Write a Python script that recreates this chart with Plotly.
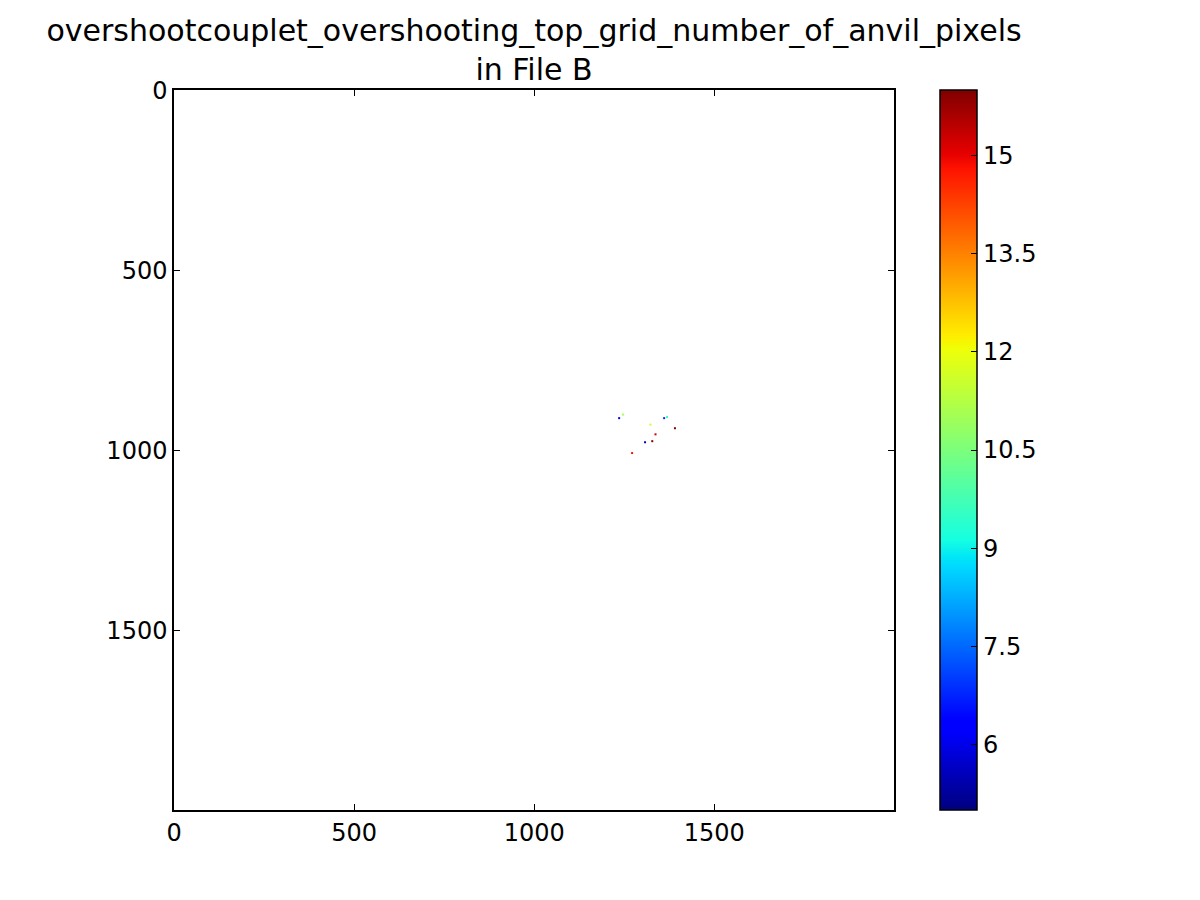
import plotly.graph_objects as go

# Sparse non-empty cells of the 2000x2000 grid (column, row, value)
cell_x = [1247, 1236, 1361, 1369, 1323, 1391, 1337, 1328, 1308, 1272]
cell_y = [901, 911, 911, 908, 929, 939, 956, 975, 978, 1008]
cell_val = [11.0, 6.0, 6.8, 9.6, 11.6, 16.0, 15.3, 16.0, 5.6, 14.8]

x_ticks = [0, 500, 1000, 1500]
y_ticks = [0, 500, 1000, 1500]
cbar_ticks = [6, 7.5, 9, 10.5, 12, 13.5, 15]
cmin, cmax = 5, 16
grid_size = 2000

title_text = "overshootcouplet_overshooting_top_grid_number_of_anvil_pixels<br>in File B"

# matplotlib 'jet' segment data -> plotly colorscale
_red = [(0, 0), (0.35, 0), (0.66, 1), (0.89, 1), (1, 0.5)]
_green = [(0, 0), (0.125, 0), (0.375, 1), (0.64, 1), (0.91, 0), (1, 0)]
_blue = [(0, 0.5), (0.11, 1), (0.34, 1), (0.65, 0), (1, 0)]


def _interp(seg, t):
    for (t0, v0), (t1, v1) in zip(seg, seg[1:]):
        if t0 <= t <= t1:
            return v0 if t1 == t0 else v0 + (v1 - v0) * (t - t0) / (t1 - t0)
    return seg[-1][1]


_stops = sorted(set([p[0] for p in _red + _green + _blue]))
jet = [[t, "rgb(%d,%d,%d)" % (round(255 * _interp(_red, t)),
                              round(255 * _interp(_green, t)),
                              round(255 * _interp(_blue, t)))] for t in _stops]

font = "DejaVu Sans, sans-serif"
OFF = 8  # page body margin

fig = go.Figure()
fig.add_trace(go.Scatter(
    x=cell_x, y=cell_y, mode="markers",
    marker=dict(symbol="square", size=2, color=cell_val, colorscale=jet,
                cmin=cmin, cmax=cmax, line=dict(width=0),
                colorbar=dict(
                    x=(940 - 174) / 720, xanchor="left", xref="paper",
                    y=0.5, yanchor="middle", len=1.0, lenmode="fraction",
                    thickness=37, thicknessmode="pixels",
                    outlinecolor="black", outlinewidth=1.5,
                    tickvals=cbar_ticks, ticktext=[str(v) for v in cbar_ticks],
                    ticks="inside", ticklen=6, tickcolor="black",
                    tickfont=dict(family=font, size=24, color="black"),
                    xpad=0, ypad=0)),
    hoverinfo="skip", showlegend=False))

axis_common = dict(showgrid=False, zeroline=False, showline=True, linecolor="black",
                   linewidth=1.5, mirror="ticks", ticks="inside", ticklen=6,
                   tickcolor="black", tickfont=dict(family=font, size=24, color="black"))

fig.update_xaxes(range=[-0.5, grid_size - 0.5], tickvals=x_ticks,
                 ticktext=[str(v) for v in x_ticks], **axis_common)
fig.update_yaxes(range=[grid_size - 0.5, -0.5], tickvals=y_ticks,
                 ticktext=[str(v) for v in y_ticks], **axis_common)

fig.update_layout(
    width=1200, height=900,
    margin=dict(l=174 - OFF, r=1200 - 894 + OFF, t=90 - OFF, b=90 + OFF, pad=0),
    paper_bgcolor="white", plot_bgcolor="white",
    title=dict(text=title_text, x=(534 - OFF) / 1200, xanchor="center",
               y=1 - 33 / 900, yanchor="top", yref="container",
               font=dict(family=font, size=30, color="black")),
)

fig.write_html("out.html")
